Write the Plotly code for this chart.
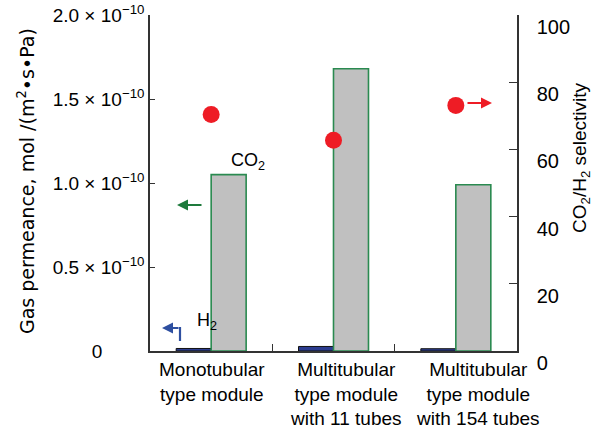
import plotly.graph_objects as go

# Module types (x categories)
modules = [
    "Monotubular<br>type module",
    "Multitubular<br>type module<br>with 11 tubes",
    "Multitubular<br>type module<br>with 154 tubes",
]

# Gas permeance, mol/(m2 s Pa)
h2_permeance = [0.015e-10, 0.027e-10, 0.0135e-10]
co2_permeance = [1.05e-10, 1.68e-10, 0.99e-10]

# CO2/H2 selectivity
selectivity = [70.4, 62.7, 73.1]

# Axis ticks
perm_ticks = [0, 0.5e-10, 1.0e-10, 1.5e-10, 2.0e-10]
NB = "\u00a0"
perm_ticktext = [
    "0" + NB * 8,
    "0.5 × 10<sup>−10</sup>",
    "1.0 × 10<sup>−10</sup>",
    "1.5 × 10<sup>−10</sup>",
    "2.0 × 10<sup>−10</sup>",
]
sel_ticks = [0, 20, 40, 60, 80, 100]
label_shift = [1, 12, 22]

FONT = "Liberation Sans"
W, H = 608, 433
L, R, T, B = 150, 91, 15, 82


def px(x):
    return (x - L) / (W - L - R)


def py(y):
    return (H - B - y) / (H - T - B)


fig = go.Figure()
fig.add_trace(go.Bar(
    x=modules, y=h2_permeance, name="H2",
    marker=dict(color="#2b3c8f", line=dict(color="#111111", width=1)),
))
fig.add_trace(go.Bar(
    x=modules, y=co2_permeance, name="CO2",
    marker=dict(color="#c0c0c0", line=dict(color="#2a8a50", width=1.6)),
))
fig.add_trace(go.Scatter(
    x=modules, y=selectivity, yaxis="y2", mode="markers", name="Selectivity",
    marker=dict(size=17, color="#ee1c25"),
))

annotations = []
for m, s in zip(modules, label_shift):
    annotations.append(dict(
        x=m, xref="x", y=0, yref="paper", yanchor="top", xanchor="center",
        xshift=s, yshift=-6, text=m, showarrow=False, align="center",
        font=dict(family=FONT, size=19, color="black"),
    ))

left_title = "Gas permeance, mol /(m<sup>2</sup>•s•Pa)"

annotations += [
    dict(x=px(12), y=py(181), xref="paper", yref="paper", textangle=-90,
         text=left_title,
         showarrow=False, font=dict(family="DejaVu Sans", size=19, color="black")),
    dict(x=px(595), y=py(158), xref="paper", yref="paper", textangle=-90,
         text="CO<sub>2</sub>/H<sub>2</sub> selectivity",
         showarrow=False, font=dict(family=FONT, size=19, color="black")),
    dict(x=px(229), y=py(161), xref="paper", yref="paper",
         text="CO<sub>2</sub>", showarrow=False,
         font=dict(family=FONT, size=18, color="black")),
    dict(x=px(195), y=py(335), xref="paper", yref="paper",
         text="H<sub>2</sub>", showarrow=False,
         font=dict(family=FONT, size=18, color="black")),
    # arrows pointing to the relevant axis
    dict(x=px(177), y=py(205), xref="paper", yref="paper", ax=26, ay=0,
         text="", showarrow=True, arrowhead=2, arrowsize=1, arrowwidth=2.2,
         arrowcolor="#1e7a3c"),
    dict(x=px(492), y=py(103), xref="paper", yref="paper", ax=-26, ay=0,
         text="", showarrow=True, arrowhead=2, arrowsize=1, arrowwidth=2.2,
         arrowcolor="#ee1c25"),
    dict(x=px(162), y=py(328), xref="paper", yref="paper", ax=18, ay=0,
         text="", showarrow=True, arrowhead=2, arrowsize=1, arrowwidth=2.2,
         arrowcolor="#2e4fa0"),
]

fig.add_shape(type="line", xref="paper", yref="paper",
              x0=px(180), y0=py(327), x1=px(180), y1=py(341),
              line=dict(color="#2e4fa0", width=2.2))

axis_line = dict(showline=True, linecolor="#333333", linewidth=1.5,
                 showgrid=False, zeroline=False)

fig.update_layout(
    width=W, height=H,
    margin=dict(l=L, r=R, t=T, b=B, pad=0, autoexpand=False),
    paper_bgcolor="white", plot_bgcolor="white",
    showlegend=False,
    barmode="group", bargap=0.428, bargroupgap=0,
    font=dict(family=FONT, size=19, color="black"),
    xaxis=dict(type="category", range=[-0.5, 2.5], showticklabels=False,
               ticks="inside", tickson="boundaries", ticklen=7,
               tickcolor="#333333", tickwidth=1.2, automargin=False,
               **axis_line),
    yaxis=dict(range=[0, 2.0e-10], tickvals=perm_ticks, ticktext=perm_ticktext,
               ticks="inside", ticklen=5, tickcolor="#333333", tickwidth=1.2,
               tickfont=dict(family=FONT, size=19), automargin=False,
               ticklabeloverflow="allow", **axis_line),
    yaxis2=dict(range=[0, 100], tickvals=sel_ticks, overlaying="y", side="right",
                ticks="inside", ticklen=8, tickcolor="#333333", tickwidth=1.2,
                ticklabelshift=12, ticklabelstandoff=14, automargin=False,
                ticklabeloverflow="allow",
                tickfont=dict(family=FONT, size=20), **axis_line),
    annotations=annotations,
)

fig.write_html("out.html")
